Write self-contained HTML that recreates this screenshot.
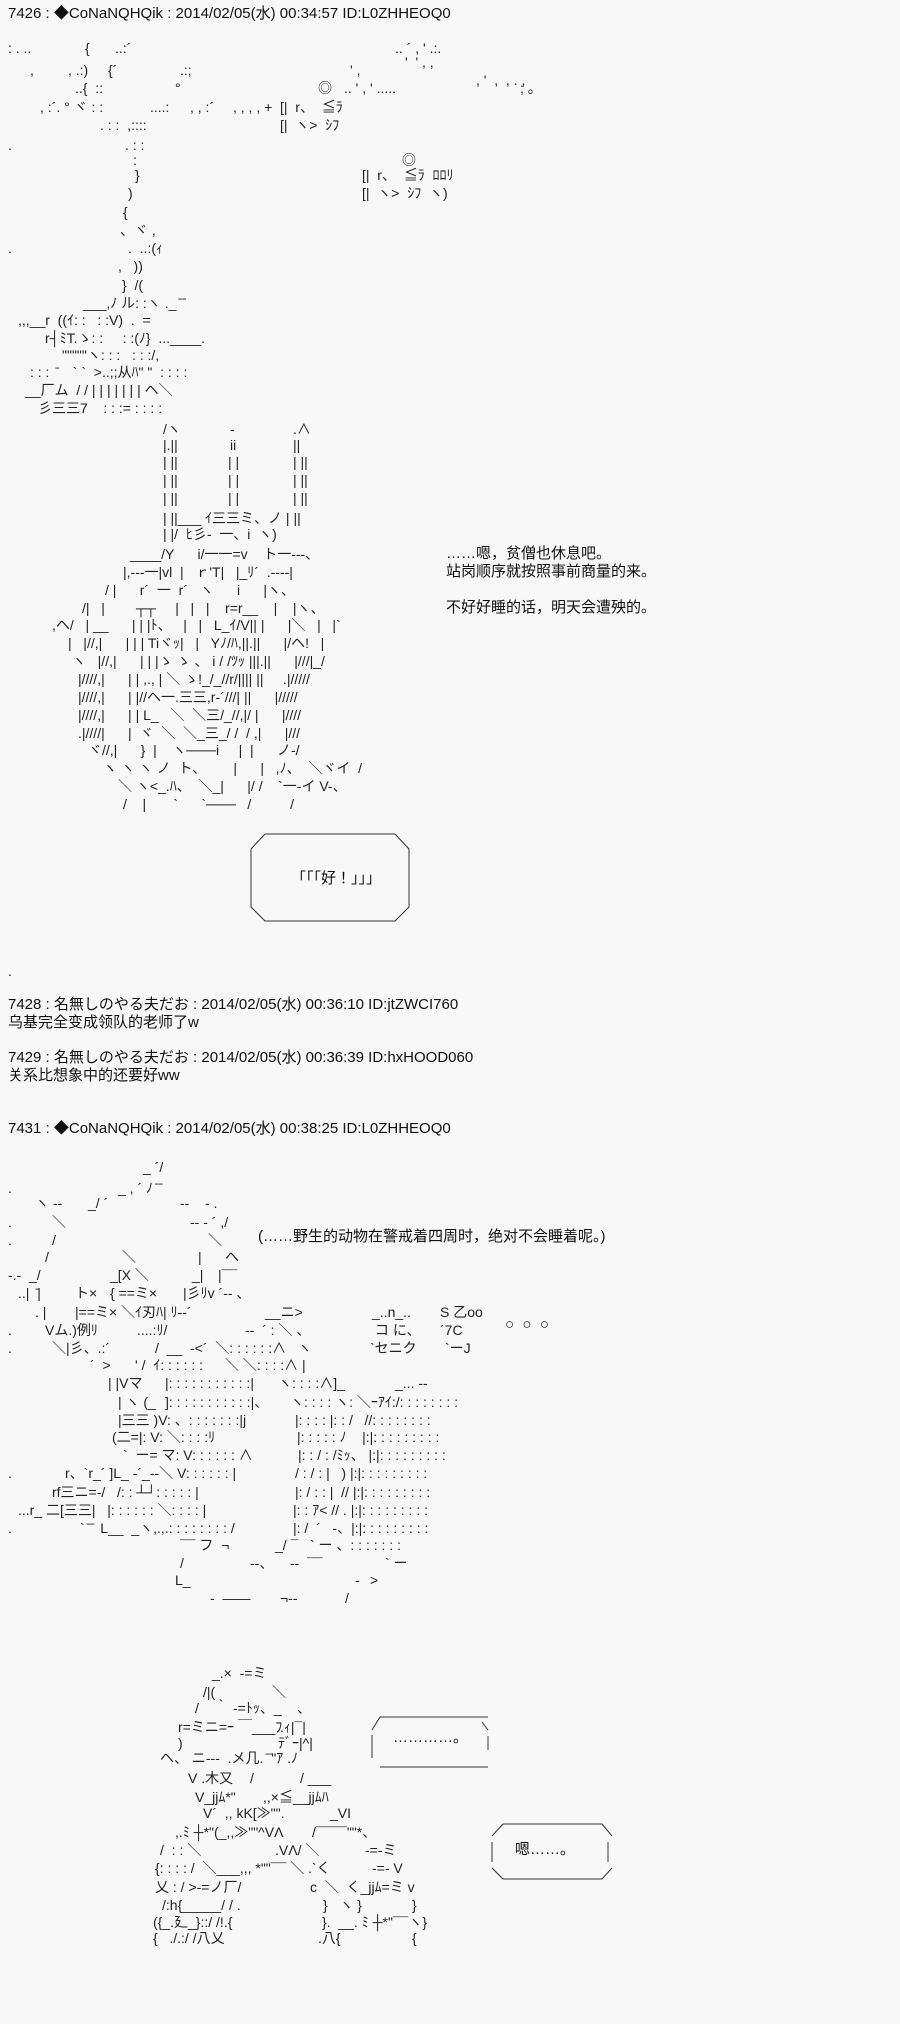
<!DOCTYPE html>
<html><head><meta charset="utf-8">
<style>
html,body{margin:0;padding:0;background:#f8f8f8;}
body{width:900px;height:2024px;position:relative;overflow:hidden;font-family:"Liberation Sans","Noto Sans CJK JP",sans-serif;color:#111;}
.t{position:absolute;font-size:15px;line-height:18px;white-space:pre;}
.r{position:absolute;left:0;height:18px;width:900px;font-size:14px;line-height:18px;color:#222;}
.r span{position:absolute;white-space:pre;}
svg{position:absolute;left:0;top:0;}
</style></head><body>

<div class="t" style="left:8px;top:5px">7426 : ◆CoNaNQHQik : 2014/02/05(水) 00:34:57 ID:L0ZHHEOQ0</div>

<!-- tree art -->
<div class="r" style="top:39px"><span style="left:8px">: . ..</span><span style="left:85px">{</span><span style="left:115px">..:´</span><span style="left:395px">.. ´ , ' .:.</span></div>
<div class="r" style="top:53px"><span style="left:405px">'  ' , ,</span></div>
<div class="r" style="top:61px"><span style="left:30px">,</span><span style="left:68px">, .:)</span><span style="left:108px">{´</span><span style="left:180px">.:;</span><span style="left:350px">' ,</span></div>
<div class="r" style="top:71px"><span style="left:476px">, '  ,  , . ,</span></div>
<div class="r" style="top:79px"><span style="left:75px">..{  ::</span><span style="left:175px">°</span><span style="left:318px">◎</span><span style="left:344px">.. ' , ' .....</span><span style="left:520px">; 。</span></div>
<div class="r" style="top:98px"><span style="left:40px">, :´. ° ヾ : :</span><span style="left:150px">....:</span><span style="left:190px">, , :´</span><span style="left:233px">, , , , +</span><span style="left:280px">[|  r、  ≦ﾗ</span></div>
<div class="r" style="top:116px"><span style="left:100px">. : :  ,::::</span><span style="left:280px">[|  ヽ&gt;  ｼﾌ</span></div>
<div class="r" style="top:136px"><span style="left:8px">.</span><span style="left:125px">. : :</span></div>
<div class="r" style="top:151px"><span style="left:133px">:</span><span style="left:402px">◎</span></div>
<div class="r" style="top:166px"><span style="left:135px">}</span><span style="left:362px">[|  r、  ≦ﾗ  ﾛﾛﾘ</span></div>
<div class="r" style="top:184px"><span style="left:128px">)</span><span style="left:362px">[|  ヽ&gt;  ｼﾌ  ヽ)</span></div>
<div class="r" style="top:203px"><span style="left:123px">{</span></div>
<div class="r" style="top:221px"><span style="left:120px">、ヾ ,</span></div>
<div class="r" style="top:239px"><span style="left:8px">.</span><span style="left:128px">.  ..:(ｨ</span></div>
<div class="r" style="top:257px"><span style="left:118px">,   ))</span></div>
<div class="r" style="top:276px"><span style="left:122px">}  /(</span></div>
<div class="r" style="top:294px"><span style="left:83px">___,ﾉ ル: :ヽ ._ ̄ ̄</span></div>
<div class="r" style="top:311px"><span style="left:18px">,,,__r  ((ｲ: :   : :V)  .  =</span></div>
<div class="r" style="top:329px"><span style="left:45px">r┤ﾐT.ゝ: :     : :(ﾉ}  ...____.</span></div>
<div class="r" style="top:346px"><span style="left:62px">"""""ヽ: : :   : : :/,</span></div>
<div class="r" style="top:363px"><span style="left:30px">: : :  ̄    ` `  &gt;..;;从ﾊ" "  : : : :</span></div>
<div class="r" style="top:381px"><span style="left:25px">__厂ム  / / | | | | | | | ヘ＼</span></div>
<div class="r" style="top:399px"><span style="left:38px">彡三三7    : : := : : : :</span></div>

<!-- rabbit -->
<div class="r" style="top:420px"><span style="left:163px">/ヽ</span><span style="left:230px">-</span><span style="left:293px">.∧</span></div>
<div class="r" style="top:436px"><span style="left:163px">|.||</span><span style="left:230px">ii</span><span style="left:293px">||</span></div>
<div class="r" style="top:453px"><span style="left:163px">| ||</span><span style="left:228px">| |</span><span style="left:293px">| ||</span></div>
<div class="r" style="top:471px"><span style="left:163px">| ||</span><span style="left:228px">| |</span><span style="left:293px">| ||</span></div>
<div class="r" style="top:489px"><span style="left:163px">| ||</span><span style="left:228px">| |</span><span style="left:293px">| ||</span></div>
<div class="r" style="top:509px"><span style="left:163px">| ||___ ｲ三三ミ、ノ | ||</span></div>
<div class="r" style="top:525px"><span style="left:163px">| |/  ﾋ彡-  一、i  ヽ)</span></div>
<div class="r" style="top:545px"><span style="left:130px">____/Y      i/一一=v    ト一---、</span></div>
<div class="r" style="top:563px"><span style="left:123px">|,---一|vl  |   ｒ'T|   |_ﾘ´  .----|</span></div>
<div class="r" style="top:581px"><span style="left:105px">/ |      r´  一  r´   ヽ      i      |ヽ、</span></div>
<div class="r" style="top:599px"><span style="left:82px">/|   |        ┬┬     |   |   |    r=r__    |    |ヽ、</span></div>
<div class="r" style="top:616px"><span style="left:52px">,ヘ/   | __      | | |ﾄ、   |   |   L_ｲ/V|| |      |＼   |   |`</span></div>
<div class="r" style="top:634px"><span style="left:68px">|   |//,|      | | | Tiヾｯ|   |   Yﾉ/ﾊ,||.||      |/ヘ!   |</span></div>
<div class="r" style="top:652px"><span style="left:72px">ヽ   |//,|      | | |ゝ ゝ 、 i / /ﾂｯ |||.||      |///|_/</span></div>
<div class="r" style="top:670px"><span style="left:78px">|////,|      | | ,., | ＼ ゝ!_/_//r/|||| ||     .|/////</span></div>
<div class="r" style="top:688px"><span style="left:78px">|////,|      | |//ヘ一.三三,r-´///| ||      |/////</span></div>
<div class="r" style="top:706px"><span style="left:78px">|////,|      | | L_   ＼  ＼三/_//,|/ |      |////</span></div>
<div class="r" style="top:724px"><span style="left:78px">.|////|      |  ヾ  ＼  ＼_三_/ /  / ,|      |///</span></div>
<div class="r" style="top:741px"><span style="left:88px">ヾ//,|      }  |    ヽ───i     |  |      ノ-/</span></div>
<div class="r" style="top:759px"><span style="left:103px">ヽ ヽ ヽ ノ  ト、       |      |   ,ﾉ、  ＼ヾイ  /</span></div>
<div class="r" style="top:777px"><span style="left:118px">＼ ヽ&lt;_.ﾊ、  ＼_|      |/ /    `一-イ V-、</span></div>
<div class="r" style="top:795px"><span style="left:123px">/    |       `      `───   /          /</span></div>

<div class="t" style="left:446px;top:545px">……嗯，贫僧也休息吧。</div>
<div class="t" style="left:446px;top:563px">站岗顺序就按照事前商量的来。</div>
<div class="t" style="left:446px;top:599px">不好好睡的话，明天会遭殃的。</div>

<svg width="900" height="2024" viewBox="0 0 900 2024">
 <g fill="none" stroke="#333" stroke-width="1">
  <polyline points="265,834 395,834 409,849 409,907 395,921 265,921 251,907 251,849 265,834"/>
  <polyline points="488,1717 380,1717 372,1730"/>
  <line x1="372" y1="1735" x2="372" y2="1758"/>
  <line x1="380" y1="1767" x2="488" y2="1767"/>
  <line x1="482" y1="1722" x2="488" y2="1730"/>
  <line x1="488" y1="1736" x2="488" y2="1750"/>
  <polyline points="503,1824 602,1824 612,1836"/>
  <polyline points="492,1836 503,1824"/>
  <line x1="492" y1="1842" x2="492" y2="1862"/>
  <line x1="608" y1="1842" x2="608" y2="1862"/>
  <polyline points="492,1868 503,1879 602,1879 612,1868"/>
 </g>
</svg>
<div class="t" style="left:291px;top:870px">「「「好！」」」</div>

<div class="r" style="top:962px"><span style="left:8px">.</span></div>
<div class="t" style="left:8px;top:996px">7428 : 名無しのやる夫だお : 2014/02/05(水) 00:36:10 ID:jtZWCI760</div>
<div class="t" style="left:8px;top:1014px">乌基完全变成领队的老师了w</div>
<div class="t" style="left:8px;top:1049px">7429 : 名無しのやる夫だお : 2014/02/05(水) 00:36:39 ID:hxHOOD060</div>
<div class="t" style="left:8px;top:1067px">关系比想象中的还要好ww</div>
<div class="t" style="left:8px;top:1120px">7431 : ◆CoNaNQHQik : 2014/02/05(水) 00:38:25 ID:L0ZHHEOQ0</div>

<!-- art 2 -->
<div class="r" style="top:1158px"><span style="left:143px">_ ´/</span></div>
<div class="r" style="top:1179px"><span style="left:8px">.</span><span style="left:118px">_ , ´ ﾉ ̄ ̄</span></div>
<div class="r" style="top:1194px"><span style="left:35px">ヽ --</span><span style="left:88px">_/ ´</span><span style="left:180px">--</span><span style="left:205px">- .</span></div>
<div class="r" style="top:1213px"><span style="left:8px">.</span><span style="left:52px">＼</span><span style="left:190px">-- - ´ ,/</span></div>
<div class="t" style="left:258px;top:1228px">(……野生的动物在警戒着四周时，绝对不会睡着呢。)</div>
<div class="r" style="top:1231px"><span style="left:8px">.</span><span style="left:52px">/</span><span style="left:208px">＼</span></div>
<div class="r" style="top:1248px"><span style="left:45px">/</span><span style="left:122px">＼</span><span style="left:198px">|</span><span style="left:225px">ヘ</span></div>
<div class="r" style="top:1266px"><span style="left:8px">-.-  _/</span><span style="left:110px">_[X ＼</span><span style="left:192px">_|</span><span style="left:218px">|¯¯</span></div>
<div class="r" style="top:1284px"><span style="left:18px">..|  ̄|</span><span style="left:75px">ト×</span><span style="left:110px">{ ==ミ×</span><span style="left:183px">|彡ﾘv ´-- 、</span></div>
<div class="r" style="top:1303px"><span style="left:35px">. |</span><span style="left:75px">|==ミ× ＼ｲ刃ﾊ| ﾘ--´</span><span style="left:265px">__ニ&gt;</span><span style="left:372px">_..n_..</span><span style="left:440px">S 乙oo</span></div>
<div class="r" style="top:1321px"><span style="left:8px">.</span><span style="left:45px">Vム.)例ﾘ</span><span style="left:137px">....:ﾘ/</span><span style="left:245px">--  ´ : ＼ 、</span><span style="left:375px">コ に、</span><span style="left:440px">´7C</span></div>
<div class="t" style="left:505px;top:1316px">○  ○  ○</div>
<div class="r" style="top:1339px"><span style="left:8px">.</span><span style="left:52px">＼|彡、.:´</span><span style="left:155px">/  __  -&lt;´  ＼: : : : : :∧   ヽ</span><span style="left:370px">`セニク</span><span style="left:445px">`ーJ</span></div>
<div class="r" style="top:1356px"><span style="left:90px">´  &gt;</span><span style="left:135px">' /  ｲ: : : : : :</span><span style="left:225px">＼ ＼: : : :∧ |</span></div>
<div class="r" style="top:1374px"><span style="left:108px">| |Vマ</span><span style="left:165px">|: : : : : : : : : : :|</span><span style="left:278px">ヽ: : : :∧]_</span><span style="left:395px">_... --</span></div>
<div class="r" style="top:1393px"><span style="left:118px">| ヽ (_</span><span style="left:165px">]: : : : : : : : : : :|、</span><span style="left:290px">ヽ: : : : ヽ: ＼ｰｱｲ:/: : : : : : : :</span></div>
<div class="r" style="top:1411px"><span style="left:118px">|三三 )V: 、: : : : : : :|j</span><span style="left:295px">|: : : : |: : /   //: : : : : : : :</span></div>
<div class="r" style="top:1428px"><span style="left:112px">(二=|: V: ＼: : : :ﾘ</span><span style="left:297px">|: : : : : ﾉ    |:|: : : : : : : : :</span></div>
<div class="r" style="top:1446px"><span style="left:123px">`  ー= マ: V: : : : : : ∧</span><span style="left:298px">|: : / : /ﾐｯ、 |:|: : : : : : : : :</span></div>
<div class="r" style="top:1464px"><span style="left:8px">.</span><span style="left:65px">r、`r_´ ]L_ -´_--＼ V: : : : : : |</span><span style="left:295px">/ : / : |   ) |:|: : : : : : : : :</span></div>
<div class="r" style="top:1483px"><span style="left:52px">rf三ニ=-/   /: : ┴┘: : : : : |</span><span style="left:295px">|: / : : |  // |:|: : : : : : : : :</span></div>
<div class="r" style="top:1501px"><span style="left:18px">...r_ 二[三三|   |: : : : : : ＼: : : : |</span><span style="left:293px">|: : ｱ&lt; // . |:|: : : : : : : : :</span></div>
<div class="r" style="top:1519px"><span style="left:8px">.</span><span style="left:80px">` ̄ ̄  L__  _ヽ,.,.: : : : : : : : /</span><span style="left:293px">|: /  ´   -、|:|: : : : : : : : :</span></div>
<div class="r" style="top:1536px"><span style="left:180px">¯¯ フ  ¬</span><span style="left:275px">_/ ¯   ` ー 、: : : : : : :</span></div>
<div class="r" style="top:1554px"><span style="left:180px">/</span><span style="left:250px">--、</span><span style="left:290px">--  ¯¯</span><span style="left:385px">` ー</span></div>
<div class="r" style="top:1571px"><span style="left:175px">L_</span><span style="left:355px">-</span><span style="left:370px">&gt;</span></div>
<div class="r" style="top:1589px"><span style="left:210px">-  ——</span><span style="left:280px">¬--</span><span style="left:345px">/</span></div>

<!-- art 3 -->
<div class="r" style="top:1664px"><span style="left:212px">_.×  -=ミ</span></div>
<div class="r" style="top:1683px"><span style="left:203px">/|(</span><span style="left:272px">＼</span></div>
<div class="r" style="top:1699px"><span style="left:195px">/    ｀</span><span style="left:233px">-=ﾄｯ、_</span><span style="left:297px">、</span></div>
<div class="r" style="top:1718px"><span style="left:178px">r=ミニ=ｰ ￣___ﾌ</span><span style="left:280px">.ｨ|¯|</span></div>
<div class="t" style="left:393px;top:1729px">…………。</div>
<div class="r" style="top:1734px"><span style="left:178px">)</span><span style="left:278px">ﾃﾞｰ|^|</span></div>
<div class="r" style="top:1749px"><span style="left:160px">ヘ、 ニ---  .メ几. ̄ ̄"ｱ .ﾉ</span></div>
<div class="r" style="top:1769px"><span style="left:188px">V .木又</span><span style="left:250px">/</span><span style="left:300px">/ ___</span></div>
<div class="r" style="top:1788px"><span style="left:195px">V_jjﾑ*"</span><span style="left:263px">,,×≦__jjﾑﾊ</span></div>
<div class="r" style="top:1804px"><span style="left:203px">V´  ,, kK[≫"".</span><span style="left:330px">_VI</span></div>
<div class="r" style="top:1823px"><span style="left:175px">,.ﾐ ┼*"(_,,≫""^VΛ</span><span style="left:312px">/¯¯¯¯""*、</span></div>
<div class="t" style="left:515px;top:1841px">嗯……。</div>
<div class="r" style="top:1841px"><span style="left:160px">/  : : ＼</span><span style="left:275px">.VΛ/ ＼</span><span style="left:365px">-=-ミ</span></div>
<div class="r" style="top:1859px"><span style="left:155px">{: : : : /  ＼___,,, *""¯¯ ＼ .`く</span><span style="left:372px">-=- V</span></div>
<div class="r" style="top:1878px"><span style="left:155px">乂 : / &gt;-=ノ厂/</span><span style="left:310px">c  ＼  く_jjﾑ=ミ v</span></div>
<div class="r" style="top:1896px"><span style="left:162px">/:h{_____/ / .</span><span style="left:323px">}   ヽ }</span><span style="left:412px">}</span></div>
<div class="r" style="top:1913px"><span style="left:153px">({_.廴_}::/ /!.{</span><span style="left:322px">}.  __. ﾐ ┼*"¯¯ヽ}</span></div>
<div class="r" style="top:1929px"><span style="left:153px">{   ./.:/ /八乂</span><span style="left:318px">.八{</span><span style="left:412px">{</span></div>

</body></html>
